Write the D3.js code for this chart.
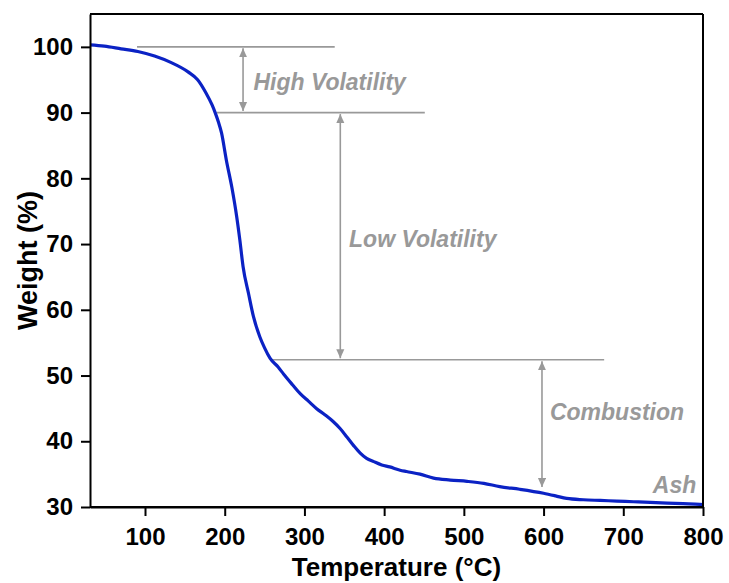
<!DOCTYPE html>
<html>
<head>
<meta charset="utf-8">
<script src="https://cdn.jsdelivr.net/npm/d3@7"></script>
<style>
  html, body { margin: 0; padding: 0; background: #fff; }
  svg { display: block; font-family: "Liberation Sans", Arial, sans-serif; }
</style>
</head>
<body>
<svg id="chart" width="729" height="583"></svg>
<script>
// ---- Data ----
const temperature = [31, 49, 70, 91, 112, 133, 154, 166, 176, 184, 188, 192, 196, 202, 209, 215, 219, 223, 230, 236, 244, 250, 257, 267, 274, 285, 295, 305, 315, 326, 336, 345, 353, 362, 370, 378, 387, 397, 407, 420, 428, 445, 462, 483, 504, 525, 545, 570, 600, 615, 629, 650, 671, 692, 713, 734, 755, 775, 796, 800];
const weight      = [100.3, 100.1, 99.7, 99.3, 98.6, 97.6, 96.2, 95.0, 93.1, 91.2, 90.0, 88.6, 86.9, 82.8, 78.6, 74.2, 70.6, 66.6, 62.4, 59.0, 55.9, 54.2, 52.6, 51.3, 50.2, 48.6, 47.2, 46.1, 45.0, 44.0, 43.0, 41.9, 40.7, 39.3, 38.2, 37.4, 36.9, 36.4, 36.1, 35.6, 35.4, 35.0, 34.4, 34.1, 33.9, 33.6, 33.1, 32.7, 32.1, 31.7, 31.3, 31.1, 31.0, 30.9, 30.8, 30.7, 30.6, 30.5, 30.4, 30.35];

const xTicks = [100, 200, 300, 400, 500, 600, 700, 800];
const yTicks = [30, 40, 50, 60, 70, 80, 90, 100];

// stage boundary levels (weight %) and the temperature span of each guide line
const guideLevels = [100, 90, 52.4];
const guideStart  = [90, 190, 259];
const guideEnd    = [338, 451, 676];

// double-headed arrows: temperature, top level, bottom level
const arrowTemp   = [223, 345, 598];
const arrowTop    = [100, 90, 52.4];
const arrowBottom = [90, 52.4, 32.8];

// stage labels: text, temperature (start), weight (baseline)
const stageNames  = ["High Volatility", "Low Volatility", "Combustion", "Ash"];
const stageTemp   = [236, 356, 608, 737];
const stageWeight = [93.5, 69.6, 43.2, 32.2];

// ---- Layout ----
const svg = d3.select("#chart");
const L = 90, R = 703, T = 14, B = 507;

const x = d3.scaleLinear().domain([31, 800]).range([L, R]);
const y = d3.scaleLinear().domain([30, 105]).range([B, T]);

const grey = "#999999";

// guide lines
const g = svg.append("g");
guideLevels.forEach((lv, i) => {
  g.append("line")
    .attr("x1", x(guideStart[i])).attr("x2", x(guideEnd[i]))
    .attr("y1", y(lv)).attr("y2", y(lv))
    .attr("stroke", grey).attr("stroke-width", 1.6);
});

// arrows
const defs = svg.append("defs");
defs.append("marker")
  .attr("id", "ah").attr("viewBox", "0 0 10 10")
  .attr("refX", 10).attr("refY", 5)
  .attr("markerWidth", 9).attr("markerHeight", 9)
  .attr("markerUnits", "userSpaceOnUse")
  .attr("orient", "auto-start-reverse")
  .append("path").attr("d", "M0,0.5 L10,5 L0,9.5 Z").attr("fill", grey);

arrowTemp.forEach((t, i) => {
  g.append("line")
    .attr("x1", x(t)).attr("x2", x(t))
    .attr("y1", y(arrowTop[i]) + 1.5).attr("y2", y(arrowBottom[i]) - 1.5)
    .attr("stroke", grey).attr("stroke-width", 1.6)
    .attr("marker-start", "url(#ah)").attr("marker-end", "url(#ah)");
});

// stage labels
stageNames.forEach((s, i) => {
  g.append("text")
    .attr("x", x(stageTemp[i])).attr("y", y(stageWeight[i]))
    .attr("fill", grey)
    .attr("font-size", 23).attr("font-weight", "bold").attr("font-style", "italic")
    .text(s);
});

// curve
const line = d3.line().x((d, i) => x(temperature[i])).y(d => y(d)).curve(d3.curveMonotoneX);
svg.append("path")
  .attr("d", line(weight))
  .attr("fill", "none")
  .attr("stroke", "#0b22c4")
  .attr("stroke-width", 3.2)
  .attr("stroke-linejoin", "round");

// axes
const xAxis = svg.append("g").attr("transform", `translate(0,${B})`)
  .call(d3.axisBottom(x).tickValues(xTicks).tickSize(9).tickPadding(12).tickSizeOuter(0));
const yAxis = svg.append("g").attr("transform", `translate(${L},0)`)
  .call(d3.axisLeft(y).tickValues(yTicks).tickSize(9).tickPadding(8).tickSizeOuter(0));

[xAxis, yAxis].forEach(a => {
  a.select(".domain").attr("stroke", "#000").attr("stroke-width", 2);
  a.selectAll(".tick line").attr("stroke", "#000").attr("stroke-width", 2);
  a.selectAll(".tick text").attr("fill", "#000")
    .attr("font-size", 24).attr("font-weight", "bold")
    .attr("font-family", "'Liberation Sans', Arial, sans-serif");
});

// frame top, right and bottom
svg.append("line").attr("x1", L).attr("x2", R).attr("y1", T).attr("y2", T)
  .attr("stroke", "#000").attr("stroke-width", 2);
svg.append("line").attr("x1", R).attr("x2", R).attr("y1", T).attr("y2", B)
  .attr("stroke", "#000").attr("stroke-width", 2);
svg.append("line").attr("x1", L).attr("x2", R).attr("y1", B).attr("y2", B)
  .attr("stroke", "#000").attr("stroke-width", 2);

// axis titles
svg.append("text")
  .attr("x", (L + R) / 2).attr("y", 576)
  .attr("text-anchor", "middle")
  .attr("font-size", 26).attr("font-weight", "bold")
  .text("Temperature (°C)");

svg.append("text")
  .attr("transform", `translate(37,${(T + B) / 2}) rotate(-90)`)
  .attr("text-anchor", "middle")
  .attr("font-size", 27).attr("font-weight", "bold")
  .text("Weight (%)");
</script>
</body>
</html>
